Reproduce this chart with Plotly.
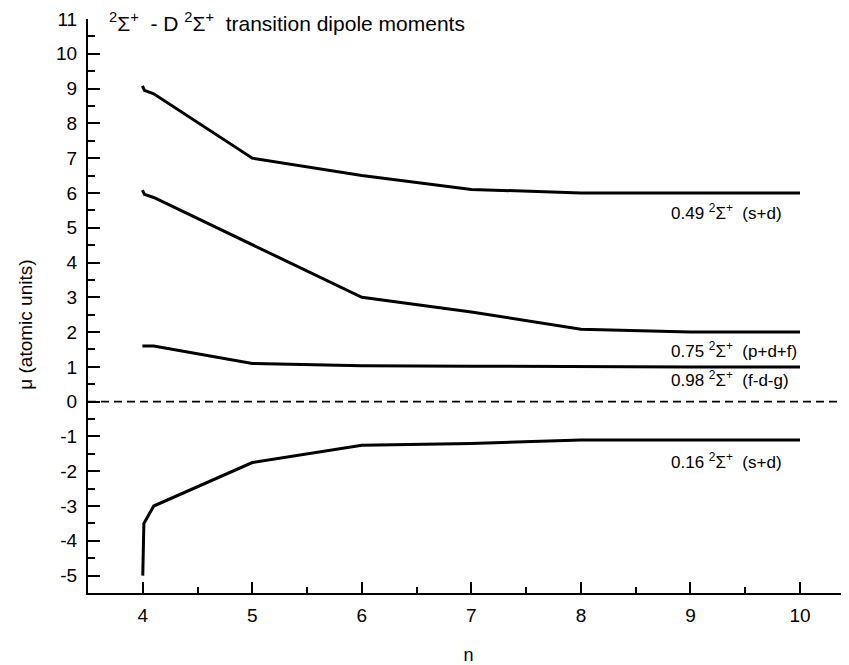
import plotly.graph_objects as go

# Data
n_49 = [3.997, 4.015, 4.1, 5, 6, 7, 8, 9, 10]
mu_49 = [9.08, 8.95, 8.85, 7.0, 6.5, 6.1, 6.0, 6.0, 6.0]
n_75 = [3.997, 4.015, 4.1, 5, 6, 7, 8, 9, 10]
mu_75 = [6.08, 5.96, 5.87, 4.5, 3.0, 2.58, 2.08, 2.0, 2.0]
n_98 = [3.997, 4.1, 5, 6, 7, 8, 9, 10]
mu_98 = [1.6, 1.6, 1.1, 1.03, 1.02, 1.0, 1.0, 1.0]
n_16 = [4.0, 4.01, 4.1, 5, 6, 7, 8, 9, 10]
mu_16 = [-5.0, -3.5, -3.0, -1.75, -1.25, -1.2, -1.1, -1.1, -1.1]

y_tickvals = list(range(-5, 12))
y_ticktext = [str(v).replace("\u2212", "-") for v in y_tickvals]
x_tickvals = [4, 5, 6, 7, 8, 9, 10]
x_ticktext = ["4", "5", "6", "7", "8", "9", "10"]

labels = ["0.49 <sup>2</sup>Σ<sup>+</sup>  (s+d)",
          "0.75 <sup>2</sup>Σ<sup>+</sup>  (p+d+f)",
          "0.98 <sup>2</sup>Σ<sup>+</sup>  (f-d-g)",
          "0.16 <sup>2</sup>Σ<sup>+</sup>  (s+d)"]
label_x = [8.8, 8.8, 8.8, 8.8]
label_y = [5.45, 1.49, 0.64, -1.7]

title_text = "<sup>2</sup>Σ<sup>+</sup>  - D <sup>2</sup>Σ<sup>+</sup>  transition dipole moments"
y_title = "μ (atomic units)"
x_title = "n"

FONT = "Liberation Sans, Arial, sans-serif"

fig = go.Figure()
for xs, ys in [(n_49, mu_49), (n_75, mu_75), (n_98, mu_98), (n_16, mu_16)]:
    fig.add_trace(go.Scatter(x=xs, y=ys, mode="lines",
                             line=dict(color="black", width=3),
                             showlegend=False, hoverinfo="skip"))

# zero dashed line
fig.add_shape(type="line", xref="paper", x0=0, x1=1, yref="y", y0=0, y1=0,
              line=dict(color="black", width=1.8, dash="8px,5px"))

for t, x, y in zip(labels, label_x, label_y):
    fig.add_annotation(x=x, y=y, text=t, showarrow=False, xanchor="left",
                       yanchor="middle", font=dict(family=FONT, size=17, color="black"))

fig.add_annotation(x=0.025, xref="paper", y=10.9, yref="y", text=title_text,
                   showarrow=False, xanchor="left", yanchor="middle",
                   font=dict(family=FONT, size=21, color="black"))

# y-axis title
fig.add_annotation(x=-0.082, xref="paper", y=2.2, yref="y", text=y_title,
                   textangle=-90, showarrow=False, xanchor="center", yanchor="middle",
                   font=dict(family=FONT, size=19, color="black"))

fig.update_layout(
    width=841, height=657,
    margin=dict(l=80, r=0, t=11, b=72),
    plot_bgcolor="white", paper_bgcolor="white",
    font=dict(family=FONT, color="black"),
)
fig.update_xaxes(range=[3.5, 10.447], showgrid=False, zeroline=False,
                 showline=True, linecolor="black", linewidth=2,
                 ticks="inside", ticklen=11, tickwidth=2, tickcolor="black",
                 tickmode="array", tickvals=x_tickvals, ticktext=x_ticktext,
                 tickfont=dict(size=19, family=FONT),
                 ticklabelstandoff=4,
                 minor=dict(ticks="inside", ticklen=6, tickwidth=2, tick0=0, dtick=0.5,
                            tickcolor="black"),
                 title=dict(text=x_title, font=dict(size=18, family=FONT), standoff=26))
fig.update_yaxes(range=[-5.5, 11], showgrid=False, zeroline=False,
                 showline=True, linecolor="black", linewidth=2,
                 ticks="inside", ticklen=12, tickwidth=2, tickcolor="black",
                 tickmode="array", tickvals=y_tickvals, ticktext=y_ticktext,
                 tickfont=dict(size=19, family=FONT),
                 ticklabelstandoff=5,
                 minor=dict(ticks="inside", ticklen=7, tickwidth=2, tick0=0, dtick=0.5,
                            tickcolor="black"))

fig.write_html("out.html")
